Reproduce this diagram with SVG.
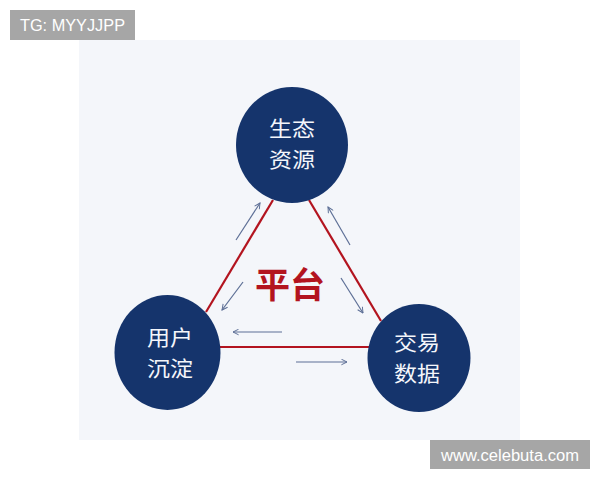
<svg xmlns="http://www.w3.org/2000/svg" width="600" height="480" viewBox="0 0 600 480">
<defs>
<style>
.node{fill:#15346c}
.nt{fill:#f4f6fb;font-family:"Noto Sans CJK SC","Noto Sans",sans-serif;font-size:21px;text-anchor:middle}
.edge{stroke:#b3141f;stroke-width:2.2;fill:none}
.flow{stroke:#5d6f96;stroke-width:1.2;fill:none;marker-end:url(#ah)}
.wm{fill:#a6a6a6}
.wmt{fill:#ffffff;font-family:"Liberation Sans",Arial,sans-serif}
</style>
<marker id="ah" viewBox="0 0 10 10" refX="9" refY="5" markerWidth="7" markerHeight="7" markerUnits="userSpaceOnUse" orient="auto">
<path d="M1,1 L9,5 L1,9" fill="none" stroke="#5d6f96" stroke-width="1.4"/>
</marker>
</defs>
<rect x="0" y="0" width="600" height="480" fill="#ffffff"/>
<rect x="79" y="40" width="441" height="400" fill="#f4f6fa"/>
<g id="connectors">
<line class="edge" x1="273" y1="200" x2="206" y2="312"/>
<line class="edge" x1="309" y1="200" x2="381" y2="321"/>
<line class="edge" x1="218" y1="347" x2="370" y2="347"/>
<line class="flow" x1="236" y1="240" x2="260" y2="203"/>
<line class="flow" x1="243" y1="282" x2="222" y2="310"/>
<line class="flow" x1="350" y1="245" x2="328" y2="207"/>
<line class="flow" x1="341" y1="278" x2="363" y2="313"/>
<line class="flow" x1="282" y1="332" x2="233" y2="332"/>
<line class="flow" x1="296" y1="362" x2="347" y2="362"/>
</g>
<g id="center-label">
<text x="290" y="298" fill="#b3141f" font-family="Noto Sans CJK SC,sans-serif" font-size="35" font-weight="bold" text-anchor="middle">平台</text>
</g>
<g id="node-eco">
<ellipse class="node" cx="292" cy="145" rx="56" ry="58"/>
<text class="nt" x="292" y="135.5" textLength="46" lengthAdjust="spacingAndGlyphs">生态</text>
<text class="nt" x="292" y="166.5" textLength="46" lengthAdjust="spacingAndGlyphs">资源</text>
</g>
<g id="node-user">
<ellipse class="node" cx="167.5" cy="352.5" rx="53" ry="57.5"/>
<text class="nt" x="170" y="345" textLength="46" lengthAdjust="spacingAndGlyphs">用户</text>
<text class="nt" x="170" y="376" textLength="46" lengthAdjust="spacingAndGlyphs">沉淀</text>
</g>
<g id="node-trade">
<ellipse class="node" cx="419" cy="358" rx="51.5" ry="54"/>
<text class="nt" x="417" y="350" textLength="46" lengthAdjust="spacingAndGlyphs">交易</text>
<text class="nt" x="417" y="381" textLength="46" lengthAdjust="spacingAndGlyphs">数据</text>
</g>
<g id="wm-top">
<rect class="wm" x="10" y="10" width="125" height="30"/>
<text class="wmt" x="20" y="31" font-size="17" textLength="105" lengthAdjust="spacingAndGlyphs">TG: MYYJJPP</text>
</g>
<g id="wm-bottom">
<rect class="wm" x="430" y="440" width="160" height="29"/>
<text class="wmt" x="441" y="460.5" font-size="16" textLength="138" lengthAdjust="spacingAndGlyphs">www.celebuta.com</text>
</g>
</svg>
